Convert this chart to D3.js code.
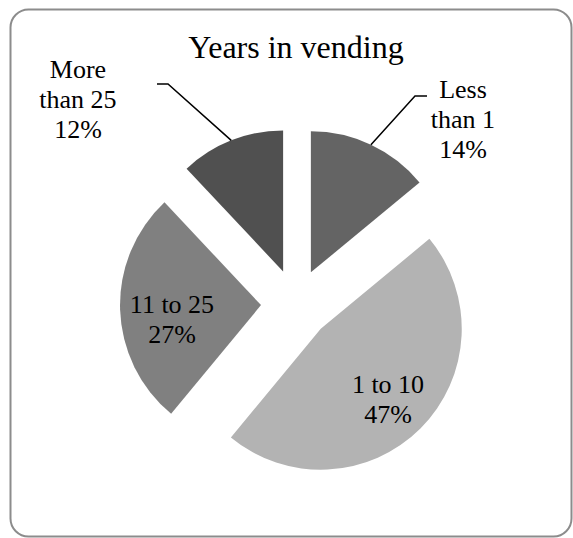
<!DOCTYPE html>
<html>
<head>
<meta charset="utf-8">
<script src="https://cdn.jsdelivr.net/npm/d3@7"></script>
<style>
  html, body { margin: 0; padding: 0; background: #fff; }
  svg { display: block; }
  text { font-family: "Liberation Serif", "Times New Roman", serif; fill: #000; }
</style>
</head>
<body>
<div id="chart"></div>
<script>
// Years in vending — share of respondents by group
const categories = ["Less than 1", "1 to 10", "11 to 25", "More than 25"];
const labelLines = [["Less", "than 1"], ["1 to 10"], ["11 to 25"], ["More", "than 25"]];
const values = [14, 47, 27, 12];
const colors = ["#646464", "#b3b3b3", "#808080", "#505050"];

const width = 573, height = 538;
const cx = 296, cy = 304, radius = 141, explode = 35;

const svg = d3.select("#chart").append("svg")
  .attr("width", width).attr("height", height);

// rounded chart frame
svg.append("rect")
  .attr("x", 10.5).attr("y", 9.5)
  .attr("width", 561).attr("height", 527)
  .attr("rx", 18).attr("ry", 18)
  .attr("fill", "#fff")
  .attr("stroke", "#8c8c8c").attr("stroke-width", 2);

svg.append("text")
  .attr("x", 296).attr("y", 58)
  .attr("text-anchor", "middle")
  .attr("font-size", 32)
  .text("Years in vending");

const pie = d3.pie().sort(null).value(d => d)
  .startAngle(0).endAngle(2 * Math.PI);
const arcs = pie(values);
const arc = d3.arc().innerRadius(0).outerRadius(radius);

const g = svg.append("g").attr("transform", `translate(${cx},${cy})`);

// each slice is pushed outward along its bisector
function offset(d) {
  const a = (d.startAngle + d.endAngle) / 2;
  return [explode * Math.sin(a), -explode * Math.cos(a)];
}

g.selectAll("path.slice")
  .data(arcs)
  .join("path")
  .attr("class", "slice")
  .attr("d", arc)
  .attr("fill", (d, i) => colors[i])
  .attr("transform", d => `translate(${offset(d)})`);

// label anchors (centre x, first baseline) in chart space
const labelPos = [
  { x: 463, y: 98, outside: true },
  { x: 388, y: 393, outside: false },
  { x: 172, y: 313, outside: false },
  { x: 78, y: 78, outside: true }
];

arcs.forEach((d, i) => {
  const p = labelPos[i];
  const lines = labelLines[i].concat([d.data + "%"]);
  const t = svg.append("text")
    .attr("text-anchor", "middle")
    .attr("font-size", 26);
  lines.forEach((s, k) => {
    t.append("tspan").attr("x", p.x).attr("y", p.y + k * 30).text(s);
  });

  if (p.outside) {
    // leader from the middle of the arc to the label
    const a = (d.startAngle + d.endAngle) / 2;
    const [ox, oy] = offset(d);
    const ex = cx + ox + radius * Math.sin(a);
    const ey = cy + oy - radius * Math.cos(a);
    const hx = i === 0 ? 415 : 168, lx = i === 0 ? 427 : 157;
    const ly = i === 0 ? 96 : 84;
    svg.append("polyline")
      .attr("points", [[ex, ey], [hx, ly], [lx, ly]].map(q => q.join(",")).join(" "))
      .attr("fill", "none")
      .attr("stroke", "#000")
      .attr("stroke-width", 1.5);
  }
});
</script>
</body>
</html>
